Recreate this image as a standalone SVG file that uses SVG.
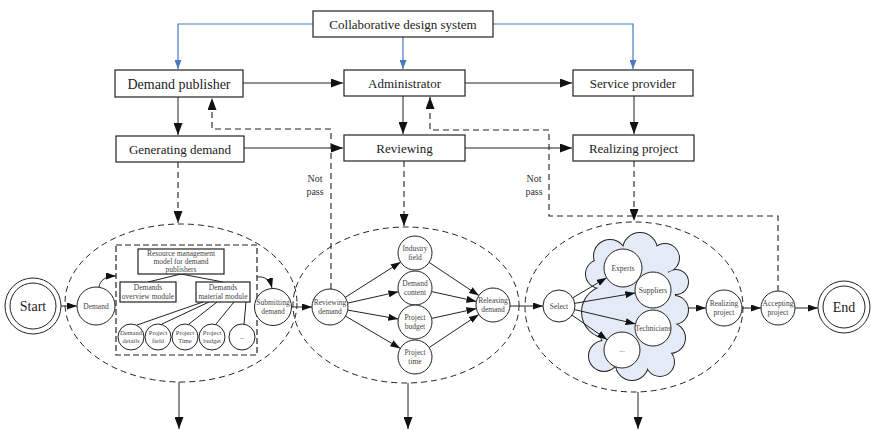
<svg xmlns="http://www.w3.org/2000/svg" xmlns:xlink="http://www.w3.org/1999/xlink" width="871" height="431" viewBox="0 0 871 431">
  <style>
    .box{fill:#fff;stroke:#222;stroke-width:1.2}
    .t{font-family:"Liberation Serif","Times New Roman",serif;fill:#222;text-anchor:middle}
    .f13{font-size:13px}
    .f14{font-size:14px}
    .f10{font-size:10px;fill:#333}
    .sm{font-size:7.5px;fill:#444}
    .xs{font-size:6.5px;fill:#444}
    .node{fill:#fff;stroke:#222;stroke-width:1}
    .edge{fill:none;stroke:#222;stroke-width:1}
    .dash{fill:none;stroke:#222;stroke-width:1.1;stroke-dasharray:6 4}
    .zone{fill:none;stroke:#222;stroke-width:1;stroke-dasharray:6 4}
    .blue{fill:none;stroke:#4a78c2;stroke-width:1.2}
  </style>
  <defs>
    <marker id="ahL" markerUnits="userSpaceOnUse" markerWidth="12" markerHeight="9" refX="12" refY="4.5" orient="auto">
      <path d="M0,0 L12,4.5 L0,9 z" fill="#111"/>
    </marker>
    <marker id="ahS" markerUnits="userSpaceOnUse" markerWidth="10" markerHeight="7" refX="10" refY="3.5" orient="auto">
      <path d="M0,0 L10,3.5 L0,7 z" fill="#111"/>
    </marker>
    <marker id="ahB" markerUnits="userSpaceOnUse" markerWidth="9" markerHeight="7" refX="9" refY="3.5" orient="auto">
      <path d="M0,0 L9,3.5 L0,7 z" fill="#4a78c2"/>
    </marker>
    <!-- cloud outline built from overlapping circles -->
    <g id="cloudShape">
      <ellipse cx="636" cy="308" rx="40" ry="60"/>
      <circle cx="610" cy="256" r="16"/>
      <circle cx="640" cy="250" r="17"/>
      <circle cx="665" cy="258" r="14"/>
      <circle cx="676" cy="282" r="12"/>
      <circle cx="674" cy="310" r="14"/>
      <circle cx="670" cy="338" r="15"/>
      <circle cx="660" cy="362" r="14"/>
      <circle cx="632" cy="364" r="16"/>
      <circle cx="604" cy="356" r="15"/>
      <circle cx="608" cy="312" r="26"/>
      <circle cx="600" cy="274" r="14"/>
    </g>
  </defs>

  <!-- stage zones -->
  <g id="zones">
    <ellipse class="zone" cx="181" cy="303" rx="116" ry="79"/>
    <ellipse class="zone" cx="406" cy="305" rx="113" ry="78"/>
    <ellipse class="zone" cx="634" cy="307" rx="109" ry="85"/>
    <rect x="116" y="245" width="141" height="110" fill="none" stroke="#222" stroke-width="1.2" stroke-dasharray="6 3"/>
  </g>

  <!-- resource pool cloud -->
  <g id="cloud">
    <use xlink:href="#cloudShape" href="#cloudShape" fill="none" stroke="#222" stroke-width="2"/>
    <use xlink:href="#cloudShape" href="#cloudShape" fill="#e4ebf7" stroke="none"/>
  </g>

  <!-- connectors -->
  <g id="connectors">
    <!-- system to roles -->
    <path class="blue" d="M313,24 H178 V69" marker-end="url(#ahB)"/>
    <path class="blue" d="M403,37 V69" marker-end="url(#ahB)"/>
    <path class="blue" d="M493,24 H633 V69" marker-end="url(#ahB)"/>
    <!-- role flow -->
    <path class="edge" d="M243,83 H343" marker-end="url(#ahL)"/>
    <path class="edge" d="M465,83 H572" marker-end="url(#ahL)"/>
    <path class="edge" d="M178,97 V135" marker-end="url(#ahL)"/>
    <path class="edge" d="M403,96 V134" marker-end="url(#ahL)"/>
    <path class="edge" d="M634,96 V134" marker-end="url(#ahL)"/>
    <path class="edge" d="M244,148 H343" marker-end="url(#ahL)"/>
    <path class="edge" d="M465,148 H572" marker-end="url(#ahL)"/>
    <!-- stage expansions -->
    <path class="dash" d="M178,162 V223" marker-end="url(#ahL)"/>
    <path class="dash" d="M404,161 V226" marker-end="url(#ahL)"/>
    <path class="dash" d="M634,161 V221" marker-end="url(#ahL)"/>
    <!-- not pass feedback -->
    <path class="dash" d="M331,289 V129 H212 V98" marker-end="url(#ahL)"/>
    <path class="dash" d="M778,291 V216 H549 V130 H430 V97" marker-end="url(#ahL)"/>
    <!-- stage outputs -->
    <path class="edge" d="M179,382 V429" marker-end="url(#ahL)"/>
    <path class="edge" d="M408,383 V429" marker-end="url(#ahL)"/>
    <path class="edge" d="M638,392 V429" marker-end="url(#ahL)"/>

    <!-- demand stage -->
    <path class="edge" d="M61,306 H77" marker-end="url(#ahS)"/>
    <path class="edge" d="M99,287 C100,280 106,276 116,276" marker-end="url(#ahS)"/>
    <path class="edge" d="M181,274 L148,282 M181,274 L223,282"/>
    <path class="edge" d="M203,302 L137,325 M209,302 L162,324 M217,302 L189,324 M234,302 L216,324 M246,302 L244,324"/>
    <path class="edge" d="M257,277 C265,276 270,280 272,288" marker-end="url(#ahS)"/>
    <path class="edge" d="M291.5,307 H312" marker-end="url(#ahS)"/>

    <!-- review stage -->
    <path class="edge" d="M345.2,297.4 L400.7,262.1" marker-end="url(#ahS)"/>
    <path class="edge" d="M347.6,303.1 L398.4,291.7" marker-end="url(#ahS)"/>
    <path class="edge" d="M347.7,310.1 L398.3,319" marker-end="url(#ahS)"/>
    <path class="edge" d="M345.5,316.1 L400.3,348.4" marker-end="url(#ahS)"/>
    <path class="edge" d="M429.1,262.4 L478.9,295.6" marker-end="url(#ahS)"/>
    <path class="edge" d="M431.6,291.6 L476.4,301.4" marker-end="url(#ahS)"/>
    <path class="edge" d="M431.6,318.4 L476.4,308.6" marker-end="url(#ahS)"/>
    <path class="edge" d="M429.1,347.6 L478.9,314.4" marker-end="url(#ahS)"/>
    <path class="edge" d="M510,306 H543" marker-end="url(#ahS)"/>

    <!-- realization stage -->
    <path class="edge" d="M572.8,297.8 L606.7,277.7" marker-end="url(#ahS)"/>
    <path class="edge" d="M574.8,303.3 L635.3,293" marker-end="url(#ahS)"/>
    <path class="edge" d="M574.6,309.6 L635.5,323.9" marker-end="url(#ahS)"/>
    <path class="edge" d="M572.1,315.2 L607.2,339.7" marker-end="url(#ahS)"/>
    <path class="edge" d="M688,308 H706" marker-end="url(#ahS)"/>
    <path class="edge" d="M742,308 H761" marker-end="url(#ahS)"/>
    <path class="edge" d="M795,308 H818" marker-end="url(#ahS)"/>
  </g>

  <!-- feedback labels -->
  <g id="notPassLabels">
    <text class="t f10" x="315" y="182">Not</text>
    <text class="t f10" x="315" y="195">pass</text>
    <text class="t f10" x="534" y="182">Not</text>
    <text class="t f10" x="534" y="195">pass</text>
  </g>

  <!-- role boxes -->
  <g id="collaborativeSystem">
    <rect class="box" x="313" y="11" width="180" height="26"/>
    <text class="t f13" x="403" y="28.5">Collaborative design system</text>
  </g>
  <g id="demandPublisher">
    <rect class="box" x="115" y="70" width="128" height="27"/>
    <text class="t f14" x="179" y="88.5">Demand publisher</text>
  </g>
  <g id="administrator">
    <rect class="box" x="344" y="70" width="121" height="26"/>
    <text class="t f13" x="404.5" y="87.5">Administrator</text>
  </g>
  <g id="serviceProvider">
    <rect class="box" x="573" y="70" width="120" height="26"/>
    <text class="t f13" x="633" y="87.5">Service provider</text>
  </g>
  <g id="generatingDemand">
    <rect class="box" x="116" y="136" width="128" height="26"/>
    <text class="t f13" x="180" y="153.5">Generating demand</text>
  </g>
  <g id="reviewing">
    <rect class="box" x="344" y="135" width="121" height="26"/>
    <text class="t f13" x="404.5" y="152.5">Reviewing</text>
  </g>
  <g id="realizingProjectBox">
    <rect class="box" x="573" y="135" width="121" height="26"/>
    <text class="t f13" x="633.5" y="152.5">Realizing project</text>
  </g>

  <!-- terminals -->
  <g id="start">
    <circle class="node" cx="33" cy="306" r="28"/>
    <circle class="node" cx="33" cy="306" r="23"/>
    <text class="t f14" x="33" y="311">Start</text>
  </g>
  <g id="end">
    <circle class="node" cx="844" cy="307" r="26"/>
    <circle class="node" cx="844" cy="307" r="21"/>
    <text class="t f14" x="844" y="312">End</text>
  </g>

  <!-- demand stage nodes -->
  <g id="demand">
    <circle class="node" cx="96" cy="306" r="19"/>
    <text class="t sm" x="96" y="308.5">Demand</text>
  </g>
  <g id="resourceModel">
    <rect class="box" x="138" y="249" width="86" height="25" stroke-width="1"/>
    <text class="t sm" x="181" y="256">Resource management</text>
    <text class="t sm" x="181" y="264">model for demand</text>
    <text class="t sm" x="181" y="272">publishers</text>
  </g>
  <g id="overviewModule">
    <rect class="box" x="120" y="282" width="56" height="20" stroke-width="1"/>
    <text class="t sm" x="148" y="290">Demands</text>
    <text class="t sm" x="148" y="299">overview module</text>
  </g>
  <g id="materialModule">
    <rect class="box" x="196" y="282" width="54" height="20" stroke-width="1"/>
    <text class="t sm" x="223" y="290">Demands</text>
    <text class="t sm" x="223" y="299">material module</text>
  </g>
  <g id="demandDetails">
    <circle class="node" cx="131" cy="337" r="13"/>
    <text class="t xs" x="131" y="335">Demand</text>
    <text class="t xs" x="131" y="343">details</text>
  </g>
  <g id="projectField">
    <circle class="node" cx="158" cy="337" r="13"/>
    <text class="t xs" x="158" y="335">Project</text>
    <text class="t xs" x="158" y="343">field</text>
  </g>
  <g id="projectTime">
    <circle class="node" cx="185" cy="337" r="13"/>
    <text class="t xs" x="185" y="335">Project</text>
    <text class="t xs" x="185" y="343">Time</text>
  </g>
  <g id="projectBudget">
    <circle class="node" cx="212" cy="337" r="13"/>
    <text class="t xs" x="212" y="335">Project</text>
    <text class="t xs" x="212" y="343">budget</text>
  </g>
  <g id="moreMaterial">
    <circle class="node" cx="242" cy="337" r="13"/>
    <text class="t xs" x="242" y="339">...</text>
  </g>
  <g id="submittingDemand">
    <circle class="node" cx="273" cy="307" r="18.5"/>
    <text class="t sm" x="273" y="305">Submitting</text>
    <text class="t sm" x="273" y="313.5">demand</text>
  </g>

  <!-- review stage nodes -->
  <g id="reviewingDemand">
    <circle class="node" cx="330" cy="307" r="18"/>
    <text class="t sm" x="330" y="305">Reviewing</text>
    <text class="t sm" x="330" y="313.5">demand</text>
  </g>
  <g id="industryField">
    <circle class="node" cx="415" cy="253" r="17"/>
    <text class="t sm" x="415" y="251">Industry</text>
    <text class="t sm" x="415" y="259.5">field</text>
  </g>
  <g id="demandContent">
    <circle class="node" cx="415" cy="288" r="17"/>
    <text class="t sm" x="415" y="286">Demand</text>
    <text class="t sm" x="415" y="294.5">content</text>
  </g>
  <g id="reviewBudget">
    <circle class="node" cx="415" cy="322" r="17"/>
    <text class="t sm" x="415" y="320">Project</text>
    <text class="t sm" x="415" y="328.5">budget</text>
  </g>
  <g id="reviewTime">
    <circle class="node" cx="415" cy="357" r="17"/>
    <text class="t sm" x="415" y="355">Project</text>
    <text class="t sm" x="415" y="363.5">time</text>
  </g>
  <g id="releasingDemand">
    <circle class="node" cx="493" cy="305" r="17"/>
    <text class="t sm" x="493" y="303">Releasing</text>
    <text class="t sm" x="493" y="311.5">demand</text>
  </g>

  <!-- realization stage nodes -->
  <g id="select">
    <circle class="node" cx="559" cy="306" r="16"/>
    <text class="t sm" x="559" y="308.5">Select</text>
  </g>
  <g id="experts">
    <circle class="node" cx="623" cy="268" r="19"/>
    <text class="t sm" x="623" y="270.5">Experts</text>
  </g>
  <g id="suppliers">
    <circle class="node" cx="653" cy="290" r="18"/>
    <text class="t sm" x="653" y="292.5">Suppliers</text>
  </g>
  <g id="technicians">
    <circle class="node" cx="653" cy="328" r="18"/>
    <text class="t sm" x="653" y="330.5">Technicians</text>
  </g>
  <g id="moreProviders">
    <circle class="node" cx="622" cy="350" r="18"/>
    <text class="t sm" x="622" y="352">...</text>
  </g>
  <g id="realizingProject">
    <circle class="node" cx="724" cy="308" r="18"/>
    <text class="t sm" x="724" y="306">Realizing</text>
    <text class="t sm" x="724" y="314.5">project</text>
  </g>
  <g id="acceptingProject">
    <circle class="node" cx="778" cy="308" r="17"/>
    <text class="t sm" x="778" y="306">Accepting</text>
    <text class="t sm" x="778" y="314.5">project</text>
  </g>
</svg>
